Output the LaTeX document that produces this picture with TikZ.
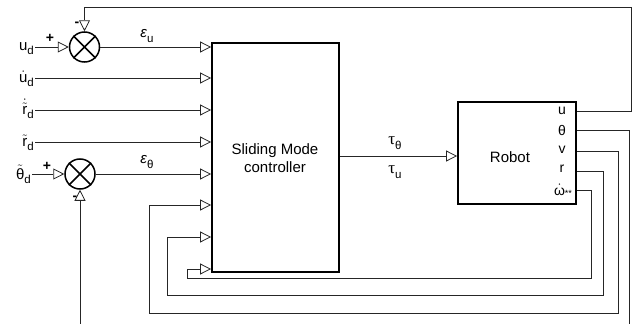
\documentclass[tikz,border=0pt]{standalone}
\usepackage{fontspec}
\usepackage{amsmath}
\setmainfont{Liberation Sans}
\newfontfamily\serifgr{Liberation Serif}
\usetikzlibrary{arrows.meta,calc}
\newcommand\sbs[1]{\raisebox{-0.32em}{\fontsize{11.5}{12}\selectfont #1}}
\tikzset{
  wire/.style={line width=0.8pt, draw=black!85},
  inarrow/.style={wire, -{Triangle[open,length=11pt,width=11pt,line width=0.8pt]}},
  blockbox/.style={draw, line width=1.8pt, inner sep=0pt},
  sumnode/.style={circle, draw, line width=1.5pt, minimum size=30pt, inner sep=0pt},
  lbl/.style={inner sep=1pt, font=\fontsize{15}{18}\selectfont},
  olbl/.style={inner sep=0pt, font=\fontsize{14}{16}\selectfont},
  sgn/.style={inner sep=0pt, font=\fontsize{14}{16}\selectfont\bfseries},
}
\begin{document}
\begin{tikzpicture}[x=1pt,y=-1pt]
\useasboundingbox (0,0) rectangle (641,324);
% blocks
\node[blockbox, minimum width=127pt, minimum height=229pt] (ctrl) at (275.5,157.5) {};
\node[lbl, align=center] (ctrltext) at (275,158) {Sliding Mode\\controller};
\node[blockbox, minimum width=118pt, minimum height=102pt] (robot) at (517,153) {};
\node[lbl] (robottext) at (510,157) {Robot};
% robot outputs
\node[olbl] (lu) at (562,111) {u};
\node[olbl] (lth) at (562,130) {θ};
\node[olbl] (lv) at (562,150) {v};
\node[olbl] (lr) at (562,169) {r};
\node[olbl, anchor=base] (lw) at (563,195) {$\dot{\text{ω}}$\raisebox{-0.1em}{\fontsize{9}{9}\selectfont **}};
\coordinate (ou) at (robot.east |- 0,111);
\coordinate (oth) at (robot.east |- 0,130);
\coordinate (ov) at (robot.east |- 0,151);
\coordinate (or) at (robot.east |- 0,171);
\coordinate (ow) at (robot.east |- 0,190);
% controller inputs
\coordinate (in2) at (ctrl.west |- 0,78);
\coordinate (in3) at (ctrl.west |- 0,110);
\coordinate (in4) at (ctrl.west |- 0,142);
\coordinate (in6) at (ctrl.west |- 0,205);
\coordinate (in7) at (ctrl.west |- 0,237);
\coordinate (in8) at (ctrl.west |- 0,269);
% summing junctions
\node[sumnode] (s1) at (84.5,47) {};
\draw[line width=1.5pt] (s1.north west) -- (s1.south east) (s1.north east) -- (s1.south west);
\node[sumnode] (s2) at (80,174) {};
\draw[line width=1.5pt] (s2.north west) -- (s2.south east) (s2.north east) -- (s2.south west);
\node[sgn] (p1) at (50,38) {+};
\node[sgn] (m1) at (77,24) {-};
\node[sgn] (p2) at (47,166) {+};
\node[sgn] (m2) at (75,198) {-};
% left labels
\node[lbl, anchor=base east] (ud) at (35,50) {u\sbs{d}};
\node[lbl, anchor=base east] (dud) at (35,82) {$\dot{\text{u}}$\sbs{d}};
\node[lbl, anchor=base east] (drd) at (35,114) {$\dot{\tilde{\text{r}}}$\sbs{d}};
\node[lbl, anchor=base east] (rd) at (35,146) {$\tilde{\text{r}}$\sbs{d}};
\node[lbl, anchor=base east] (thd) at (32,179) {$\tilde{\text{θ}}$\sbs{d}};
\draw[inarrow] (ud.east |- s1.west) -- (s1.west);
\draw[inarrow] (dud.east |- in2) -- (in2);
\draw[inarrow] (drd.east |- in3) -- (in3);
\draw[inarrow] (rd.east |- in4) -- (in4);
\draw[inarrow] (thd.east |- s2.west) -- (s2.west);
% error signals
\draw[inarrow] (s1.east) -- (ctrl.west |- s1.east);
\node[lbl] (eu) at (147,36) {\textit{ε}\sbs{u}};
\draw[inarrow] (s2.east) -- (ctrl.west |- s2.east);
\node[lbl] (eth) at (147,162) {\textit{ε}\sbs{θ}};
% controller -> robot
\coordinate (co) at (ctrl.east |- 0,156);
\draw[inarrow] (co) -- (robot.west |- co);
\node[lbl] (tt) at (395,143) {{\serifgr\fontsize{17}{18}\selectfont τ}\sbs{θ}};
\node[lbl] (tu) at (395,172) {{\serifgr\fontsize{17}{18}\selectfont τ}\sbs{u}};
% feedback loops
\coordinate (cu) at (631,7);
\draw[inarrow] (ou) -| (cu) -| (s1.north);
\coordinate (cth) at (629,324);
\draw[wire] (oth) -| (cth);
\coordinate (s2b) at (80,324);
\draw[inarrow] (s2b) -- (s2.south);
\coordinate (cv1) at (618,313);
\coordinate (cv2) at (149,205);
\draw[inarrow] (ov) -| (cv1) -| (cv2) -- (in6);
\coordinate (cr1) at (603,295);
\coordinate (cr2) at (167,237);
\draw[inarrow] (or) -| (cr1) -| (cr2) -- (in7);
\coordinate (cw1) at (591,278);
\coordinate (cw2) at (187,269);
\draw[inarrow] (ow) -| (cw1) -| (cw2) -- (in8);
\end{tikzpicture}
\end{document}
